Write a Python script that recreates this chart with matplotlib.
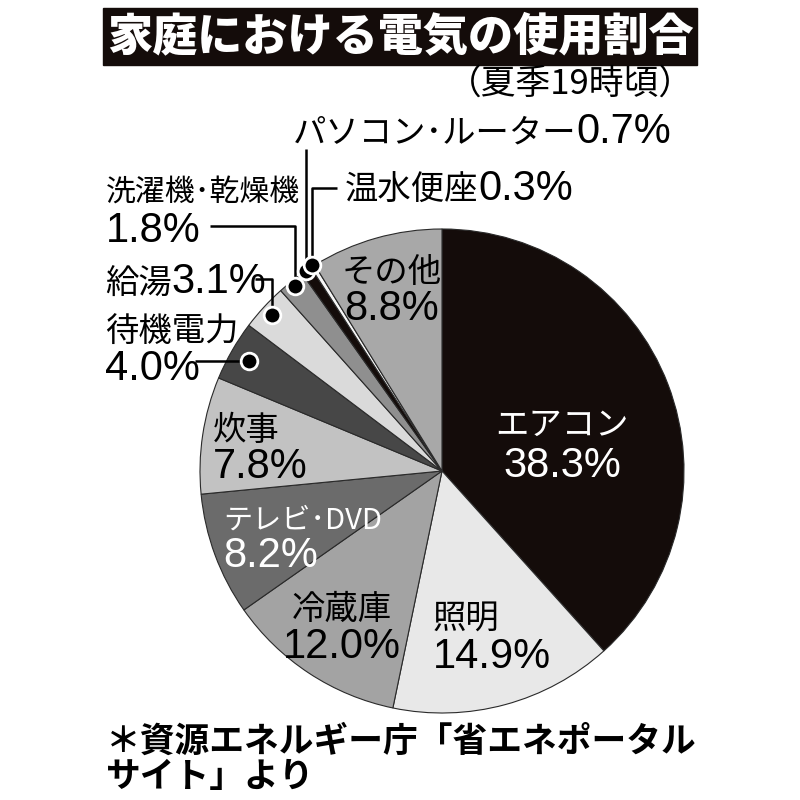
import matplotlib
matplotlib.use('Agg')
import matplotlib.pyplot as plt
import numpy as np
from matplotlib.patches import Rectangle

# ---- data ----
categories = ['エアコン', '照明', '冷蔵庫', 'テレビ・DVD', '炊事', '待機電力',
              '給湯', '洗濯機・乾燥機', 'パソコン・ルーター', '温水便座', 'その他']
values = [38.3, 14.9, 12.0, 8.2, 7.8, 4.0, 3.1, 1.8, 0.7, 0.3, 8.8]
pct_labels = [f'{v:.1f}%' for v in values]
title = '家庭における電気の使用割合'
subtitle = '（夏季19時頃）'
source_lines = ['＊資源エネルギー庁「省エネポータル', 'サイト」より']

# ---- styles ----
colors = ['#140c0a', '#e8e8e8', '#a3a3a3', '#6b6b6b', '#c2c2c2', '#474747',
          '#dadada', '#8f8f8f', '#140c0a', '#f6f6f6', '#a8a8a8']
JP = ['Noto Sans CJK JP', 'DejaVu Sans']
NUM = ['Liberation Sans', 'DejaVu Sans']
NAME_SIZE = 24
NUM_SIZE = 30

fig = plt.figure(figsize=(8, 8), dpi=100)
fig.patch.set_facecolor('white')
ax = fig.add_axes([0, 0, 1, 1])
H = 800


def Y(y):
    return H - y


CX, CY, R = 442, 471, 242
wedges, _ = ax.pie(values, colors=colors, startangle=90, counterclock=False,
                   center=(CX, Y(CY)), radius=R,
                   wedgeprops=dict(edgecolor='#2a2a2a', linewidth=0.8))
ax.set_xlim(0, 800)
ax.set_ylim(0, 800)
ax.set_aspect('equal')
ax.axis('off')

renderer = fig.canvas.get_renderer()


def put(x, base, parts, ha='left', color='black', weight='normal'):
    ts = [ax.text(0, Y(base), s, fontsize=sz, family=fam, color=color,
                  ha='left', va='baseline', fontweight=weight, zorder=6)
          for s, sz, fam in parts]
    ws = [t.get_window_extent(renderer).width for t in ts]
    total = sum(ws)
    if ha == 'center':
        x0 = x - total / 2
    elif ha == 'right':
        x0 = x - total
    else:
        x0 = x
    for t, w in zip(ts, ws):
        t.set_x(x0)
        x0 += w


def disp(s):
    # narrow (half-width) middle dot as in the printed chart
    return s.replace('・', '･')


# ---- title ----
ax.add_patch(Rectangle((103, Y(65)), 594, 57, color='#140c0a', zorder=5))
ax.text(400, Y(37), title, fontsize=32.5, family=JP, fontweight='black',
        color='white', ha='center', va='center', zorder=6)
ax.text(694, Y(85), subtitle, fontsize=25, family=JP, color='black',
        ha='right', va='center', zorder=6)

# ---- labels ----
layout = {
    'エアコン': dict(x=562, ha='center', base=[435, 477], color='white'),
    '照明': dict(x=433, ha='left', base=[628, 668]),
    '冷蔵庫': dict(x=342, ha='center', base=[619, 658]),
    'テレビ・DVD': dict(x=223, ha='left', base=[529, 567], color='white', size=21),
    '炊事': dict(x=213, ha='left', base=[440, 478]),
    '待機電力': dict(x=105, ha='left', base=[341, 380]),
    '給湯': dict(x=105, ha='left', base=[293]),
    '洗濯機・乾燥機': dict(x=106, ha='left', base=[201, 242], size=21.5),
    'パソコン・ルーター': dict(x=293, ha='left', base=[143]),
    '温水便座': dict(x=345, ha='left', base=[200]),
    'その他': dict(x=392, ha='center', base=[282, 320]),
}

for cat, pct in zip(categories, pct_labels):
    L = layout[cat]
    col = L.get('color', 'black')
    nsz = L.get('size', NAME_SIZE)
    name = disp(cat)
    if len(L['base']) == 2:
        put(L['x'], L['base'][0], [(name, nsz, JP)], ha=L['ha'], color=col)
        put(L['x'], L['base'][1], [(pct, NUM_SIZE, NUM)], ha=L['ha'], color=col)
    else:
        put(L['x'], L['base'][0], [(name, nsz, JP), (pct, NUM_SIZE, NUM)],
            ha=L['ha'], color=col)

# ---- leader lines with dots ----
leaders = {
    '待機電力': (0.918, 195, None),
    '給湯': (0.955, 255, 279),
    '洗濯機・乾燥機': (0.975, 210, 226),
    'パソコン・ルーター': (1.0, None, 149),
    '温水便座': (1.005, 337, 188),
}
for cat, w in zip(categories, wedges):
    if cat not in leaders:
        continue
    rf, sx, sy = leaders[cat]
    mid = np.deg2rad((w.theta1 + w.theta2) / 2)
    dx = CX + rf * R * np.cos(mid)
    dy = Y(CY) + rf * R * np.sin(mid)
    sxx = dx if sx is None else sx
    syy = dy if sy is None else Y(sy)
    ax.plot([sxx, dx, dx], [syy, syy, dy], color='black', lw=1.8,
            solid_capstyle='butt', zorder=7)
    ax.plot([dx], [dy], marker='o', markersize=12, color='black',
            markeredgecolor='white', markeredgewidth=2.0, zorder=8)

# ---- source ----
put(106, 752, [(source_lines[0], 25, JP)], weight='bold')
put(106, 787, [(source_lines[1], 25, JP)], weight='bold')

fig.savefig('out.png', dpi=100, facecolor='white')
